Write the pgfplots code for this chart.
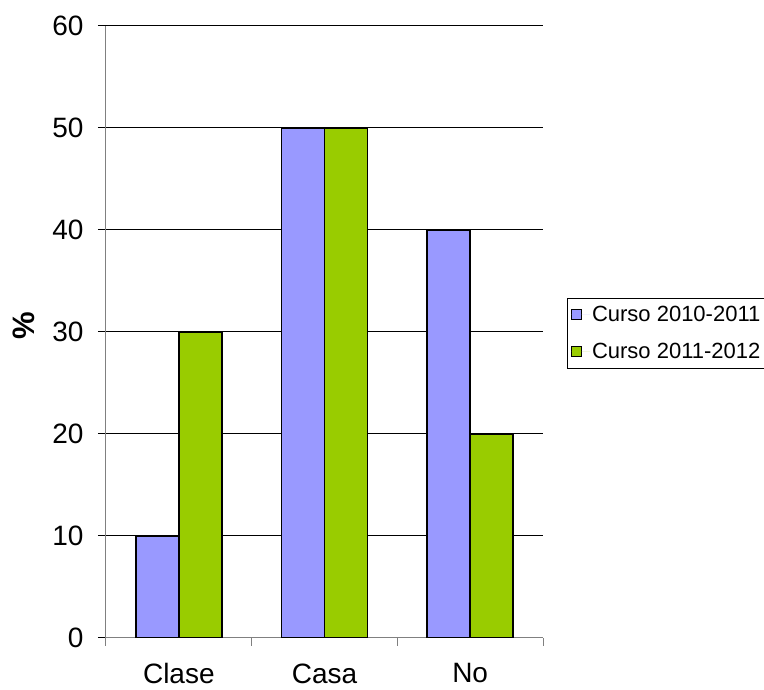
\documentclass[border=0pt]{standalone}
\usepackage{pgfplots}
\pgfplotsset{compat=1.18}
\usepackage{fontspec}
\setmainfont{Liberation Sans}
\definecolor{cblue}{HTML}{9999FF}
\definecolor{cgreen}{HTML}{99CC00}
\definecolor{axgray}{HTML}{808080}
\begin{document}
\begin{tikzpicture}
\useasboundingbox (0,0) rectangle (764pt,690pt);
\begin{axis}[
  at={(106pt,52pt)}, anchor=south west,
  scale only axis, width=437pt, height=612pt,
  ybar=0pt, bar width=43pt,
  xmin=-0.5, xmax=2.5, ymin=0, ymax=60,
  ytick={0,10,...,60},
  xtick={0,1,2}, xticklabels={Clase,Casa,No},
  minor xtick={-0.5,0.5,1.5,2.5},
  axis lines*=left,
  axis line style={axgray, line width=1pt},
  ymajorgrids, grid style={black, line width=1pt},
  tick align=outside,
  major tick length=8pt, minor tick length=8pt,
  major x tick style={draw=none},
  minor x tick style={axgray, line width=1pt},
  ytick style={black, line width=1pt},
  /pgf/number format/assume math mode=true,
  ticklabel style={font=\fontsize{28pt}{33pt}\selectfont},
  yticklabel style={xshift=-11pt},
  xticklabel style={yshift=-14pt},
  ylabel={\%},
  ylabel style={font=\fontsize{31pt}{36pt}\selectfont\bfseries, at={(axis description cs:-0.188,0.51)}, anchor=center},
  legend style={at={(axis description cs:1.055,0.5556)}, anchor=north west, draw=black, line width=1pt,
    font=\fontsize{22pt}{26pt}\selectfont, inner xsep=3pt, inner ysep=6pt, row sep=16pt, cells={anchor=west}},
  legend image code/.code={\draw[#1, draw=black, line width=1pt] (0pt,-5pt) rectangle (10pt,5pt); \path[draw=none] (0pt,0pt) -- (19pt,0pt);},
]
\addplot[fill=cblue, draw=black, line width=1.5pt] coordinates {(0,10) (1,50) (2,40)};
\addplot[fill=cgreen, draw=black, line width=1.5pt] coordinates {(0,30) (1,50) (2,20)};
\legend{Curso 2010-2011, Curso 2011-2012}
\end{axis}
\end{tikzpicture}
\end{document}
